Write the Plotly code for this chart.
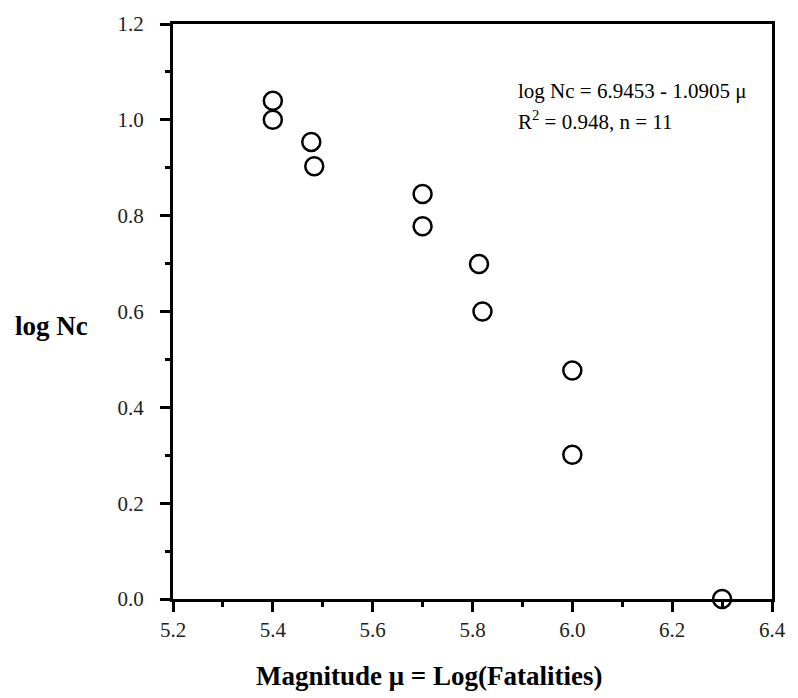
import plotly.graph_objects as go

magnitude = [5.40, 5.40, 5.477, 5.483, 5.70, 5.70, 5.813, 5.82, 6.00, 6.00, 6.30]
log_nc = [1.04, 1.00, 0.954, 0.903, 0.845, 0.778, 0.699, 0.60, 0.477, 0.301, 0.0]

FONT = "Liberation Serif"
tick_font = dict(family=FONT, size=21, color="#222222")

fig = go.Figure()
fig.add_trace(go.Scatter(
    x=magnitude, y=log_nc, mode="markers",
    marker=dict(symbol="circle-open", size=18, color="black", line=dict(width=2.5, color="black")),
    cliponaxis=False, showlegend=False,
))

minor = dict(ticks="outside", ticklen=5, tickwidth=2.5, tickcolor="black", dtick=0.1, showgrid=False)

fig.update_layout(
    width=798, height=698,
    margin=dict(l=173, r=14, t=15, b=99),
    plot_bgcolor="white", paper_bgcolor="white",
    font=dict(family=FONT, size=21, color="#222222"),
    xaxis=dict(
        range=[5.2, 6.4], dtick=0.2, tick0=5.2, tickformat=".1f",
        showline=True, linecolor="black", linewidth=3, mirror=True,
        ticks="outside", ticklen=10, tickwidth=2.5, tickcolor="black",
        showgrid=False, zeroline=False, tickfont=tick_font, minor=minor,
    ),
    yaxis=dict(
        range=[0, 1.2], dtick=0.2, tick0=0, tickformat=".1f",
        showline=True, linecolor="black", linewidth=3, mirror=True,
        ticks="outside", ticklen=10, tickwidth=2.5, tickcolor="black",
        showgrid=False, zeroline=False, tickfont=tick_font, minor=minor,
        ticklabelstandoff=12,
    ),
)

fig.add_annotation(text="<b>Magnitude μ = Log(Fatalities)</b>", xref="paper", yref="paper",
                   x=0.427, y=-0.1336, xanchor="center", yanchor="middle", showarrow=False,
                   font=dict(family=FONT, size=27, color="black"))
fig.add_annotation(text="<b>log Nc</b>", xref="paper", yref="paper",
                   x=-0.2668, y=0.474, xanchor="left", yanchor="middle", showarrow=False,
                   font=dict(family=FONT, size=27, color="black"))
fig.add_annotation(text="log Nc = 6.9453 - 1.0905 μ", xref="paper", yref="paper",
                   x=0.573, y=0.8836, xanchor="left", yanchor="middle", showarrow=False,
                   font=dict(family=FONT, size=21, color="black"))
fig.add_annotation(text="R<sup>2</sup> = 0.948, n = 11", xref="paper", yref="paper",
                   x=0.573, y=0.832, xanchor="left", yanchor="middle", showarrow=False,
                   font=dict(family=FONT, size=21, color="black"))

fig.write_html("out.html")
